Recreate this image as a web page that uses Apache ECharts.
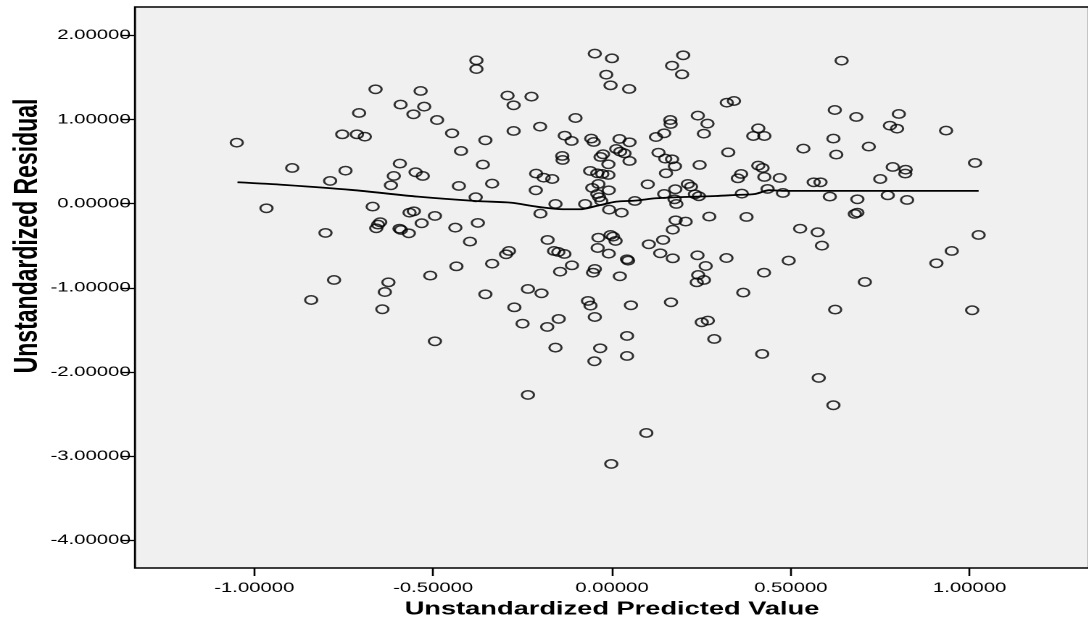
<!DOCTYPE html>
<html>
<head>
<meta charset="utf-8">
<script src="https://cdn.jsdelivr.net/npm/echarts@6/dist/echarts.min.js"></script>
<style>
html,body{margin:0;padding:0;background:#fff;overflow:hidden;width:1088px;height:630px;}
#chart{width:751px;height:630px;transform:scaleX(1.45);transform-origin:0 0;}
</style>
</head>
<body>
<div id="chart"></div>
<script>
// Unstandardized Predicted Value (x) and Unstandardized Residual (y)
const predicted = [
-1.049,-0.379,-0.379,-0.661,-0.535,-0.591,-0.525,-0.555,-0.707,-0.489,
-0.754,-0.713,-0.691,-0.447,-0.422,-0.894,-0.745,-0.788,-0.593,-0.610,
-0.549,-0.529,-0.618,-0.428,-0.381,-0.966,-0.669,-0.566,-0.554,-0.495,
-0.648,-0.654,-0.659,-0.594,-0.590,-0.568,-0.532,-0.438,-0.375,-0.801,
-0.397,
-0.435,-0.508,-0.777,-0.625,-0.635,-0.841,-0.642,-0.495,
-0.048,0.000,-0.016,-0.004,0.048,0.199,0.168,0.196,-0.292,-0.275,
-0.225,0.321,0.341,-0.102,-0.201,-0.275,-0.354,-0.132,-0.113,-0.058,
-0.051,0.021,0.049,0.123,0.146,0.163,0.164,0.240,0.267,0.257,
-0.139,-0.138,-0.025,-0.032,0.012,0.023,0.035,0.049,-0.010,-0.361,
0.130,0.149,0.168,0.176,0.151,0.245,0.325,-0.212,-0.191,-0.167,
-0.061,-0.041,-0.027,-0.010,-0.335,-0.213,-0.038,-0.055,-0.009,-0.041,
-0.036,-0.030,0.100,0.146,0.177,0.212,0.221,0.232,0.243,0.175,
0.180,0.064,0.352,0.361,0.363,-0.158,-0.075,-0.200,-0.008,0.027,
0.178,0.206,0.170,0.272,0.376,-0.180,-0.038,-0.004,0.003,0.010,
0.143,0.103,
0.642,0.623,0.683,0.802,0.777,0.797,0.934,0.409,0.395,0.426,
0.535,0.619,0.718,0.627,0.409,0.421,0.426,0.469,0.785,0.821,
0.820,1.015,0.750,0.564,0.583,0.435,0.478,0.609,0.686,0.771,
0.825,0.686,0.679,0.526,0.575,1.025,
-0.288,-0.296,-0.335,-0.354,-0.162,-0.150,-0.133,-0.040,-0.009,0.042,
0.045,-0.145,-0.112,-0.048,-0.053,0.022,0.135,0.170,0.239,0.262,
0.320,0.241,0.257,0.237,-0.235,-0.197,-0.273,-0.067,-0.060,-0.048,
0.053,0.165,0.367,-0.250,-0.181,-0.149,0.251,0.268,0.286,0.042,
-0.158,-0.033,-0.049,0.042,-0.235,0.096,-0.002,
0.587,0.494,0.425,0.950,0.907,0.707,0.624,1.007,0.420,0.578,
0.619
];
const residual = [
0.725,1.703,1.600,1.359,1.339,1.177,1.153,1.062,1.078,0.994,
0.824,0.824,0.796,0.836,0.626,0.424,0.392,0.270,0.476,0.329,
0.373,0.329,0.218,0.210,0.076,-0.055,-0.035,-0.107,-0.091,-0.146,
-0.221,-0.249,-0.293,-0.297,-0.312,-0.352,-0.233,-0.285,-0.229,-0.348,
-0.451,
-0.745,-0.855,-0.907,-0.935,-1.050,-1.145,-1.255,-1.636,
1.783,1.727,1.533,1.406,1.363,1.763,1.640,1.537,1.284,1.169,
1.272,1.200,1.220,1.018,0.915,0.864,0.753,0.808,0.745,0.773,
0.733,0.769,0.729,0.792,0.836,0.994,0.947,1.046,0.951,0.832,
0.567,0.519,0.587,0.555,0.650,0.618,0.598,0.507,0.468,0.464,
0.606,0.535,0.527,0.444,0.361,0.460,0.610,0.357,0.309,0.293,
0.389,0.361,0.353,0.341,0.238,0.159,0.234,0.187,0.159,0.115,
0.076,0.032,0.230,0.115,0.171,0.234,0.202,0.111,0.088,0.052,
-0.004,0.032,0.301,0.353,0.119,-0.004,-0.004,-0.118,-0.071,-0.107,
-0.198,-0.213,-0.309,-0.154,-0.158,-0.431,-0.404,-0.372,-0.392,-0.443,
-0.431,-0.483,
1.699,1.113,1.030,1.066,0.927,0.891,0.868,0.895,0.804,0.804,
0.654,0.773,0.678,0.583,0.452,0.424,0.317,0.305,0.436,0.404,
0.357,0.484,0.293,0.254,0.254,0.175,0.127,0.084,0.052,0.099,
0.044,-0.107,-0.122,-0.297,-0.340,-0.372,
-0.562,-0.602,-0.713,-1.077,-0.562,-0.574,-0.598,-0.527,-0.594,-0.661,
-0.677,-0.808,-0.733,-0.776,-0.820,-0.863,-0.590,-0.650,-0.614,-0.741,
-0.646,-0.848,-0.907,-0.935,-1.014,-1.065,-1.232,-1.156,-1.212,-1.347,
-1.208,-1.172,-1.057,-1.426,-1.465,-1.370,-1.410,-1.390,-1.608,-1.572,
-1.711,-1.719,-1.873,-1.810,-2.273,-2.725,-3.093,
-0.499,-0.677,-0.820,-0.562,-0.709,-0.931,-1.259,-1.267,-1.786,-2.071,
-2.396
];
// Loess fit line
const loessX = [-1.047,-0.913,-0.728,-0.543,-0.376,-0.284,-0.210,-0.136,-0.090,-0.043,0.012,0.064,0.123,0.179,0.234,0.290,0.345,0.400,0.440,0.480,1.025];
const loessY = [0.254,0.222,0.163,0.083,0.030,0.012,-0.036,-0.067,-0.067,-0.027,0.024,0.036,0.064,0.076,0.083,0.091,0.103,0.115,0.160,0.152,0.152];
const xTicks = [-1.0,-0.5,0.0,0.5,1.0];
const yTicks = [-4,-3,-2,-1,0,1,2];
const xTitle = 'Unstandardized Predicted Value';
const yTitle = 'Unstandardized Residual';

const points = predicted.map((v,i)=>[v,residual[i]]);
const loess = loessX.map((v,i)=>[v,loessY[i]]);

const chart = echarts.init(document.getElementById('chart'), null, {devicePixelRatio:2});
const fmt = v => Number(v).toFixed(5);
chart.setOption({
  animation:false,
  backgroundColor:'#ffffff',
  grid:{left:93.1, top:7, width:662.8, height:561, show:true, backgroundColor:'#f0f0f0', borderColor:'#000', borderWidth:1.4},
  xAxis:{type:'value', min:-1.3335, max:1.3335, position:'bottom',
    axisLine:{show:false, onZero:false}, splitLine:{show:false},
    axisTick:{show:true, length:8, lineStyle:{color:'#000', width:1.3}, customValues:xTicks},
    axisLabel:{customValues:xTicks, formatter:fmt, color:'#000', fontFamily:'Liberation Sans, Arial, sans-serif', fontSize:14, margin:13},
    name:xTitle, nameLocation:'middle', nameGap:31,
    nameTextStyle:{color:'#000', fontFamily:'Liberation Sans, Arial, sans-serif', fontWeight:'bold', fontSize:18.8}
  },
  yAxis:{type:'value', min:-4.33, max:2.337, position:'left',
    axisLine:{show:false, onZero:false}, splitLine:{show:false},
    axisTick:{show:true, length:10, lineStyle:{color:'#000', width:1.3}, customValues:yTicks},
    axisLabel:{customValues:yTicks, formatter:fmt, color:'#000', fontFamily:'Liberation Sans, Arial, sans-serif', fontSize:14, margin:3}
  },
  graphic:[{type:'text', x:19, y:236, rotation:Math.PI/2,
    style:{text:yTitle, fill:'#000', font:'bold 23px "Liberation Sans", Arial, sans-serif', align:'center', verticalAlign:'middle'}}],
  series:[
    {type:'scatter', data:points, symbol:'circle', symbolSize:8.4,
     itemStyle:{color:'rgba(0,0,0,0)', borderColor:'#000', borderWidth:1.5}, silent:true, z:3},
    {type:'line', data:loess, showSymbol:false, smooth:0.3, lineStyle:{color:'#000', width:1.8}, silent:true, z:2}
  ]
});
</script>
</body>
</html>
